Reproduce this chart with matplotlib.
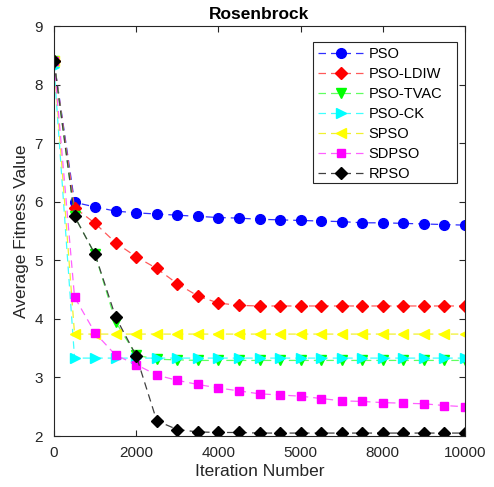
import matplotlib
matplotlib.use('Agg')
import matplotlib.pyplot as plt
from matplotlib.patches import Rectangle
import numpy as np

plt.rcParams['font.family'] = ['Liberation Sans', 'DejaVu Sans']

# Iterations (every 500)
iters = np.arange(0, 10001, 500)

pso = [8.40, 5.99, 5.91, 5.84, 5.81, 5.79, 5.77, 5.75, 5.73, 5.72, 5.70,
       5.69, 5.68, 5.67, 5.66, 5.64, 5.64, 5.63, 5.62, 5.61, 5.60]
pso_ldiw = [8.40, 5.90, 5.63, 5.30, 5.06, 4.86, 4.60, 4.39, 4.27, 4.23, 4.22,
            4.22, 4.22, 4.22, 4.22, 4.22, 4.22, 4.22, 4.22, 4.22, 4.22]
pso_tvac = [8.40, 5.75, 5.10, 3.95, 3.38, 3.31, 3.30, 3.29, 3.29, 3.29, 3.29,
            3.29, 3.29, 3.29, 3.29, 3.29, 3.29, 3.29, 3.29, 3.29, 3.29]
pso_ck = [8.30, 3.33, 3.33, 3.33, 3.33, 3.33, 3.33, 3.33, 3.33, 3.33, 3.33,
          3.33, 3.33, 3.33, 3.33, 3.33, 3.33, 3.33, 3.33, 3.33, 3.33]
spso = [8.40, 3.74, 3.74, 3.74, 3.74, 3.74, 3.74, 3.74, 3.74, 3.74, 3.74,
        3.74, 3.74, 3.74, 3.74, 3.74, 3.74, 3.74, 3.74, 3.74, 3.74]
sdpso = [8.40, 4.37, 3.76, 3.38, 3.22, 3.04, 2.95, 2.88, 2.82, 2.77, 2.72,
         2.70, 2.68, 2.64, 2.60, 2.59, 2.57, 2.56, 2.55, 2.52, 2.50]
rpso = [8.40, 5.75, 5.10, 4.03, 3.37, 2.26, 2.11, 2.07, 2.06, 2.06, 2.05,
        2.05, 2.05, 2.05, 2.05, 2.05, 2.05, 2.05, 2.05, 2.05, 2.05]

series = [
    ('PSO', pso, 'blue', '#3030ff', 'o', 7),
    ('PSO-LDIW', pso_ldiw, 'red', '#ff5a5a', 'D', 6),
    ('PSO-TVAC', pso_tvac, '#00ff00', '#60ff60', 'v', 7),
    ('PSO-CK', pso_ck, 'cyan', '#40ffff', '>', 7),
    ('SPSO', spso, 'yellow', '#f0f030', '<', 7),
    ('SDPSO', sdpso, 'magenta', '#ff60ff', 's', 6),
    ('RPSO', rpso, 'black', '#404040', 'D', 6),
]

xticks = [0, 2000, 4000, 6000, 8000, 10000]
xticklabels = ['0', '2000', '4000', '5000', '8000', '10000']

W, H = 494, 487
fig = plt.figure(figsize=(W / 100, H / 100), dpi=100)
ax = fig.add_axes([54 / W, 1 - 436 / H, 411 / W, 410 / H])

for name, vals, mc, lc, mk, ms in series:
    ax.plot(iters, vals, linestyle='--', color=lc, linewidth=0.9,
            marker=mk, markersize=ms, markerfacecolor=mc, markeredgecolor=mc,
            label=name, dashes=(6, 4))

ax.set_xlim(0, 10000)
ax.set_ylim(2, 9)
ax.set_xticks(xticks)
ax.set_xticklabels(xticklabels)
ax.set_yticks(range(2, 10))
ax.tick_params(direction='in', top=True, right=True, labelsize=11,
               colors='#262626', length=4)
ax.tick_params(axis='x', pad=7)
ax.tick_params(axis='y', pad=8)
for sp in ax.spines.values():
    sp.set_color('#262626')
    sp.set_linewidth(0.8)

ax.set_xlabel('Iteration Number', fontsize=12.5, color='#262626', labelpad=3)
ax.set_ylabel('Average Fitness Value', fontsize=12.5, color='#262626')
ax.set_title('Rosenbrock', fontsize=12.5, fontweight='bold', pad=5)

# legend without its own frame; box drawn to match the reference extents
leg = ax.legend(loc='upper left', bbox_to_anchor=((306 - 54) / 411, (436 - 35) / 410),
                fontsize=10.5, frameon=False,
                handlelength=3.2, labelspacing=0.42, borderpad=0.3,
                handletextpad=0.3)
ax.add_patch(Rectangle(((313 - 54) / 411, (436 - 183) / 410), 144 / 411, 141 / 410,
                       transform=ax.transAxes, facecolor='white',
                       edgecolor='#262626', linewidth=0.8, zorder=4))
leg.set_zorder(5)

fig.savefig('out.png', dpi=100)
